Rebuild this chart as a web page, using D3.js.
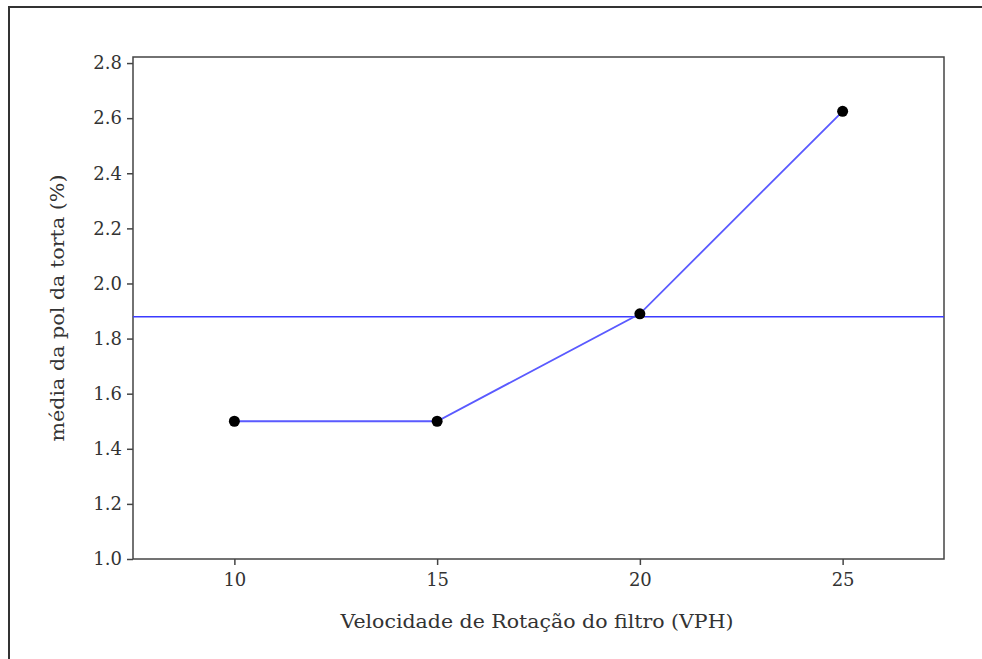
<!DOCTYPE html>
<html>
<head>
<meta charset="utf-8">
<script src="https://cdn.jsdelivr.net/npm/d3@7"></script>
<style>
  body { margin: 0; background: #fff; }
  text { font-family: "DejaVu Serif", "Liberation Serif", serif; fill: #333; }
</style>
</head>
<body>
<svg id="chart" width="982" height="659"></svg>
<script>
// data
var speeds = [10, 15, 20, 25]
var polMeans = [1.50, 1.50, 1.89, 2.625]
var grandMean = [1.879]
var xTicks = [10, 15, 20, 25]
var yTicks = [1.0, 1.2, 1.4, 1.6, 1.8, 2.0, 2.2, 2.4, 2.6, 2.8]
var xTitle = "Velocidade de Rotação do filtro (VPH)"
var yTitle = "média da pol da torta (%)"

var svg = d3.select("#chart")
var m = { left: 133, right: 944, top: 57, bottom: 559 }

var x = d3.scaleLinear().domain([7.5, 27.5]).range([m.left, m.right])
var y = d3.scaleLinear().domain([1.0, 2.822]).range([m.bottom, m.top])

// outer frame (only left and top edges visible)
svg.append("path")
    .attr("d", "M9,659 V7 H982")
    .attr("fill", "none")
    .attr("stroke", "#333")
    .attr("stroke-width", 2)

// plot box
svg.append("rect")
    .attr("x", m.left).attr("y", m.top)
    .attr("width", m.right - m.left).attr("height", m.bottom - m.top)
    .attr("fill", "none")
    .attr("stroke", "#444")
    .attr("stroke-width", 1.5)

var xAxis = svg.append("g")
    .attr("transform", "translate(0," + m.bottom + ")")
    .call(d3.axisBottom(x).tickValues(xTicks).tickSize(6).tickPadding(8).tickFormat(d3.format("d")))
var yAxis = svg.append("g")
    .attr("transform", "translate(" + m.left + ",0)")
    .call(d3.axisLeft(y).tickValues(yTicks).tickSize(6).tickPadding(5).tickFormat(d3.format(".1f")))

;[xAxis, yAxis].forEach(function(g) {
  g.attr("font-size", null).attr("font-family", null)
  g.select(".domain").remove()
  g.selectAll(".tick line").attr("stroke", "#444").attr("stroke-width", 1.5)
  g.selectAll(".tick text")
    .attr("fill", "#333")
    .style("font-size", "18px")
    .style("font-family", '"DejaVu Serif", serif')
})

// reference line at grand mean
svg.append("g").selectAll("line")
    .data(grandMean)
    .enter().append("line")
    .attr("x1", m.left).attr("x2", m.right)
    .attr("y1", function(d) { return y(d) })
    .attr("y2", function(d) { return y(d) })
    .attr("stroke", "#3b3bff")
    .attr("stroke-width", 1.5)

var pts = speeds.map(function(s, i) { return [s, polMeans[i]] })

svg.append("path")
    .datum(pts)
    .attr("fill", "none")
    .attr("stroke", "#5a5aff")
    .attr("stroke-width", 1.8)
    .attr("d", d3.line()
      .x(function(d) { return x(d[0]) })
      .y(function(d) { return y(d[1]) }))

svg.append("g").selectAll("circle")
    .data(pts)
    .enter().append("circle")
    .attr("cx", function(d) { return x(d[0]) })
    .attr("cy", function(d) { return y(d[1]) })
    .attr("r", 5.5)
    .attr("fill", "#000")

svg.append("text")
    .attr("x", 537)
    .attr("y", 628)
    .attr("text-anchor", "middle")
    .style("font-size", "18px")
    .attr("textLength", 393)
    .attr("lengthAdjust", "spacingAndGlyphs")
    .text(xTitle)

svg.append("text")
    .attr("transform", "translate(64,308) rotate(-90)")
    .attr("text-anchor", "middle")
    .style("font-size", "18px")
    .attr("textLength", 267)
    .attr("lengthAdjust", "spacingAndGlyphs")
    .text(yTitle)
</script>
</body>
</html>
